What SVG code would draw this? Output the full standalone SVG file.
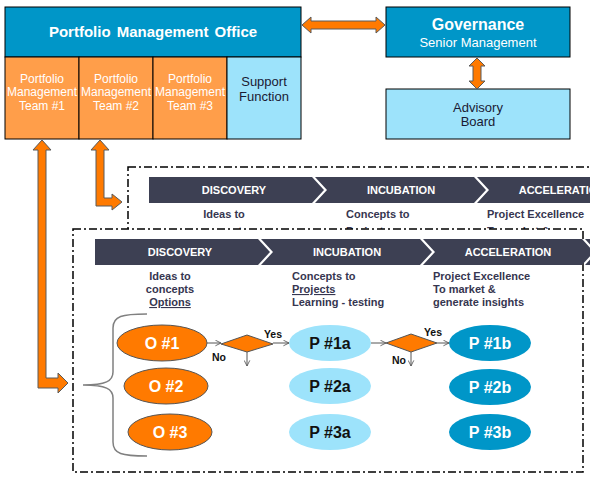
<svg xmlns="http://www.w3.org/2000/svg" xmlns:xlink="http://www.w3.org/1999/xlink" width="590" height="480" viewBox="0 0 590 480">
<style>
text{font-family:"Liberation Sans",Arial,sans-serif}
.box{stroke:#000;stroke-width:1}
.blue{fill:#0096C8}
.orange{fill:#FF9E4A}
.light{fill:#9DE3FB}
.wt{fill:#fff}
.dk{fill:#1a1a33}
.panel{fill:#fff;stroke:#000;stroke-width:1.5;stroke-dasharray:8 3 2 3}
.chev{fill:#3D4053}
.chevt{fill:#fff;font-weight:bold;font-size:11px;text-anchor:middle}
.sub{fill:#363650;font-weight:bold;font-size:11px}
.block{fill:#FF7A00;stroke:#5a5a5a;stroke-width:1}
.thin{fill:none;stroke:#555;stroke-width:1}
.el{font-weight:bold;font-size:16px;text-anchor:middle}
.yn{fill:#111;font-weight:bold;font-size:10.5px;text-anchor:middle}
</style>
<defs>
<marker id="open" viewBox="0 0 10 10" refX="9" refY="5" markerWidth="7" markerHeight="7" markerUnits="userSpaceOnUse" orient="auto">
<path d="M1,1 L9,5 L1,9" fill="none" stroke="#555" stroke-width="1.2"/>
</marker>
<path id="chevFirst" class="chev" d="M0,0 H163 L175,13 L163,26 H0 Z"/>
<path id="chevNext" class="chev" d="M0,0 H159 L171,13 L159,26 H0 L12,13 Z"/>
<clipPath id="backClip"><rect x="100" y="150" width="500" height="79"/></clipPath>
</defs>

<!-- Top organisation boxes -->
<g id="pmo">
<rect class="box blue" x="5" y="7" width="296" height="50"/>
<text x="153" y="37" class="wt" font-size="15" font-weight="bold" text-anchor="middle" word-spacing="2">Portfolio Management Office</text>
</g>
<g id="team1">
<rect class="box orange" x="5" y="57" width="74" height="82"/>
<text class="wt" font-size="12" text-anchor="middle"><tspan x="42" y="83">Portfolio</tspan><tspan x="42" y="96">Management</tspan><tspan x="42" y="110">Team #1</tspan></text>
</g>
<g id="team2">
<rect class="box orange" x="79" y="57" width="74" height="82"/>
<text class="wt" font-size="12" text-anchor="middle"><tspan x="116" y="83">Portfolio</tspan><tspan x="116" y="96">Management</tspan><tspan x="116" y="110">Team #2</tspan></text>
</g>
<g id="team3">
<rect class="box orange" x="153" y="57" width="74" height="82"/>
<text class="wt" font-size="12" text-anchor="middle"><tspan x="190" y="83">Portfolio</tspan><tspan x="190" y="96">Management</tspan><tspan x="190" y="110">Team #3</tspan></text>
</g>
<g id="support">
<rect class="box light" x="227" y="57" width="74" height="82"/>
<text class="dk" font-size="13" text-anchor="middle"><tspan x="264" y="86">Support</tspan><tspan x="264" y="101">Function</tspan></text>
</g>
<g id="governance">
<rect class="box blue" x="386" y="7" width="184" height="50"/>
<text x="478" y="30" class="wt" font-size="16" font-weight="bold" text-anchor="middle">Governance</text>
<text x="478" y="47" class="wt" font-size="13" text-anchor="middle">Senior Management</text>
</g>
<g id="advisory">
<rect class="box light" x="386" y="89" width="184" height="50"/>
<text class="dk" font-size="13" text-anchor="middle"><tspan x="478" y="112">Advisory</tspan><tspan x="478" y="126">Board</tspan></text>
</g>

<!-- Back stage panel -->
<g id="back-panel" clip-path="url(#backClip)">
<rect class="panel" x="128" y="167" width="480" height="90"/>
<use xlink:href="#chevFirst" x="149" y="177"/>
<use xlink:href="#chevNext" x="315" y="177"/>
<use xlink:href="#chevNext" x="477" y="177"/>
<text class="chevt" x="234" y="194">DISCOVERY</text>
<text class="chevt" x="401" y="194">INCUBATION</text>
<text class="chevt" x="562" y="194">ACCELERATION</text>
<text class="sub" x="224" y="218" text-anchor="middle">Ideas to</text>
<text class="sub" x="224" y="235" text-anchor="middle">concepts</text>
<text class="sub" x="346" y="218">Concepts to</text>
<text class="sub" x="346" y="235">Projects</text>
<text class="sub" x="487" y="218">Project Excellence</text>
<text class="sub" x="487" y="235">To market &amp;</text>
</g>

<!-- Front stage panel -->
<g id="front-panel">
<rect class="panel" x="73" y="229" width="510" height="243"/>
<use xlink:href="#chevFirst" x="95" y="239"/>
<use xlink:href="#chevNext" x="261" y="239"/>
<use xlink:href="#chevNext" x="423" y="239"/>
<use xlink:href="#chevNext" x="585" y="239"/>
<text class="chevt" x="180" y="256">DISCOVERY</text>
<text class="chevt" x="347" y="256">INCUBATION</text>
<text class="chevt" x="508" y="256">ACCELERATION</text>
<text class="sub" text-anchor="middle"><tspan x="170" y="280">Ideas to</tspan><tspan x="170" y="293">concepts</tspan><tspan x="170" y="306" text-decoration="underline">Options</tspan></text>
<text class="sub"><tspan x="292" y="280">Concepts to</tspan><tspan x="292" y="293" text-decoration="underline">Projects</tspan><tspan x="292" y="306">Learning - testing</tspan></text>
<text class="sub"><tspan x="433" y="280">Project Excellence</tspan><tspan x="433" y="293">To market &amp;</tspan><tspan x="433" y="306">generate insights</tspan></text>
<path d="M147,314 C122,314 113,316 113,328 L113,372 C113,381 106,385 83,385 C106,385 113,389 113,398 L113,442 C113,454 122,456 147,456" fill="none" stroke="#808080" stroke-width="1.5"/>
</g>

<!-- Connectors -->
<g id="connectors">
<path class="block" d="M302,25 L311,17 L311,21 L376,21 L376,17 L385,25 L376,33 L376,29 L311,29 L311,33 Z"/>
<path class="block" d="M477,58 L485,66 L481,66 L481,81 L485,81 L477,89 L469,81 L473,81 L473,66 L469,66 Z"/>
<path class="block" d="M42,140 L51,150 L46,150 L46,378 L58,378 L58,373 L68,383 L58,393 L58,388 L38,388 L38,150 L33,150 Z"/>
<path class="block" d="M100,140 L109,150 L104,150 L104,198 L112,198 L112,194 L122,202 L112,210 L112,206 L96,206 L96,150 L91,150 Z"/>
<line class="thin" x1="207" y1="343" x2="221" y2="343" marker-end="url(#open)"/>
<line class="thin" x1="273" y1="343" x2="289" y2="343" marker-end="url(#open)"/>
<line class="thin" x1="247" y1="352" x2="247" y2="366" marker-end="url(#open)"/>
<line class="thin" x1="371" y1="343" x2="386" y2="343" marker-end="url(#open)"/>
<line class="thin" x1="437" y1="343" x2="449" y2="343" marker-end="url(#open)"/>
<line class="thin" x1="411" y1="352" x2="411" y2="366" marker-end="url(#open)"/>
<text class="yn" x="273" y="338">Yes</text>
<text class="yn" x="219" y="361">No</text>
<text class="yn" x="433" y="336">Yes</text>
<text class="yn" x="399" y="364">No</text>
</g>

<!-- Options -->
<g id="o1"><ellipse cx="162" cy="343" rx="45" ry="18" fill="#FF7A00" stroke="#555" stroke-width="1"/><text class="el wt" x="162" y="349">O #1</text></g>
<g id="o2"><ellipse cx="166" cy="386" rx="42" ry="18" fill="#FF7A00" stroke="#555" stroke-width="1"/><text class="el wt" x="166" y="392">O #2</text></g>
<g id="o3"><ellipse cx="170" cy="432" rx="42" ry="18" fill="#FF7A00" stroke="#555" stroke-width="1"/><text class="el wt" x="170" y="438">O #3</text></g>

<!-- Decisions -->
<g id="d1"><polygon points="221,344 247,335 273,344 247,352" fill="#FF7A00" stroke="#555" stroke-width="1"/></g>
<g id="d2"><polygon points="386,343 411,334 437,343 411,352" fill="#FF7A00" stroke="#555" stroke-width="1"/></g>

<!-- Projects a -->
<g id="p1a"><ellipse cx="330" cy="343" rx="41" ry="18" fill="#9DE3FB"/><text class="el" fill="#111" x="330" y="349">P #1a</text></g>
<g id="p2a"><ellipse cx="330" cy="386" rx="41" ry="18" fill="#9DE3FB"/><text class="el" fill="#111" x="330" y="392">P #2a</text></g>
<g id="p3a"><ellipse cx="330" cy="432" rx="41" ry="18" fill="#9DE3FB"/><text class="el" fill="#111" x="330" y="438">P #3a</text></g>

<!-- Projects b -->
<g id="p1b"><ellipse cx="490" cy="343" rx="41" ry="18" fill="#0096C8"/><text class="el wt" x="490" y="349">P #1b</text></g>
<g id="p2b"><ellipse cx="490" cy="387" rx="41" ry="18" fill="#0096C8"/><text class="el wt" x="490" y="393">P #2b</text></g>
<g id="p3b"><ellipse cx="490" cy="432" rx="41" ry="18" fill="#0096C8"/><text class="el wt" x="490" y="438">P #3b</text></g>
</svg>
